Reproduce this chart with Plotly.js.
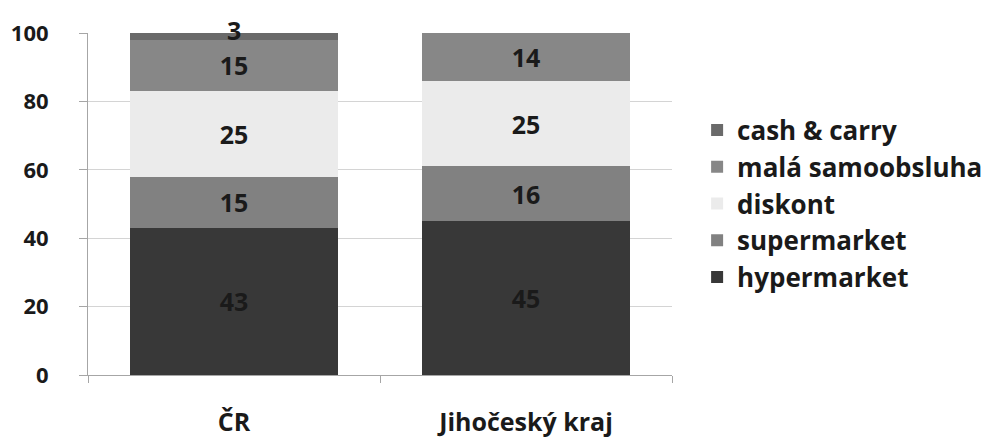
<!DOCTYPE html>
<html>
<head>
<meta charset="utf-8">
<script src="https://cdn.plot.ly/plotly-3.0.1.min.js"></script>
<style>
  html, body { margin: 0; padding: 0; background: #fff; }
  #chart { width: 984px; height: 438px; }
</style>
</head>
<body>
<div id="chart"></div>
<script>
// Regions shown as stacked columns
const categories = ['ČR', 'Jihočeský kraj'];

// Share of each store format (%)
const hypermarket     = [43, 45];
const supermarket     = [15, 16];
const diskont         = [25, 25];
const malaSamoobsluha = [15, 14];
const cashAndCarry    = [3, null];

const seriesNames  = ['hypermarket', 'supermarket', 'diskont', 'malá samoobsluha', 'cash & carry'];
const seriesValues = [hypermarket, supermarket, diskont, malaSamoobsluha, cashAndCarry];
const seriesColors = ['#383838', '#818181', '#ebebeb', '#878787', '#6a6a6a'];

const yTicks = [0, 20, 40, 60, 80, 100];

const FONT = '"Open Sans", Lato, sans-serif';
const TEXT_COLOR = '#1a1a1a';

// The thin top segment gets its label as an annotation centred on the segment
// (nudged upward); all other segments carry their value centred inside the bar.
const topIndex = seriesValues.length - 1;

const traces = seriesNames.map((name, i) => ({
  type: 'bar',
  name: name,
  x: categories,
  y: seriesValues[i],
  text: seriesValues[i].map(v => (v == null || i === topIndex ? '' : String(v))),
  textposition: 'inside',
  insidetextanchor: 'middle',
  constraintext: 'none',
  textfont: { family: FONT, size: 25, color: TEXT_COLOR, weight: 'bold' },
  marker: { color: seriesColors[i], line: { width: 0 } },
  hoverinfo: 'skip'
}));

const annotations = categories.map((cat, c) => {
  const v = seriesValues[topIndex][c];
  if (v == null) return null;
  const stackTop = seriesValues.reduce((s, arr) => s + (arr[c] || 0), 0);
  return {
    x: cat, y: stackTop - v / 2, xref: 'x', yref: 'y',
    text: String(v), showarrow: false,
    xanchor: 'center', yanchor: 'middle', yshift: 5,
    font: { family: FONT, size: 25, color: TEXT_COLOR, weight: 'bold' }
  };
}).filter(Boolean);

const layout = {
  width: 984,
  height: 438,
  margin: { l: 88, r: 312, t: 33, b: 63, autoexpand: false },
  paper_bgcolor: '#ffffff',
  plot_bgcolor: '#ffffff',
  barmode: 'stack',
  bargap: 0.285,
  showlegend: true,
  font: { family: FONT, size: 25, color: TEXT_COLOR, weight: 'bold' },
  annotations: annotations,
  xaxis: {
    type: 'category',
    showgrid: false,
    showline: true,
    linecolor: '#a6a6a6',
    linewidth: 1,
    ticks: 'outside',
    tickson: 'boundaries',
    ticklen: 7,
    tickcolor: '#a6a6a6',
    tickfont: { family: FONT, size: 25, color: TEXT_COLOR, weight: 'bold' },
    ticklabelstandoff: 25,
    fixedrange: true
  },
  yaxis: {
    range: [0, 100],
    tickvals: yTicks,
    ticktext: yTicks.map(String),
    showgrid: true,
    gridcolor: '#d4d4d4',
    gridwidth: 1,
    zeroline: false,
    showline: true,
    linecolor: '#a6a6a6',
    linewidth: 1,
    ticks: 'outside',
    ticklen: 8,
    tickcolor: '#a6a6a6',
    tickfont: { family: FONT, size: 22, color: TEXT_COLOR, weight: 'bold' },
    ticklabelstandoff: 26,
    fixedrange: true
  },
  legend: {
    x: 1.043,
    xanchor: 'left',
    y: 0.5,
    yanchor: 'middle',
    traceorder: 'reversed',
    itemwidth: 30,
    font: { family: FONT, size: 26, color: TEXT_COLOR, weight: 'bold' },
    bgcolor: 'rgba(0,0,0,0)'
  }
};

Plotly.newPlot('chart', traces, layout, { staticPlot: true, displayModeBar: false });
</script>
</body>
</html>
